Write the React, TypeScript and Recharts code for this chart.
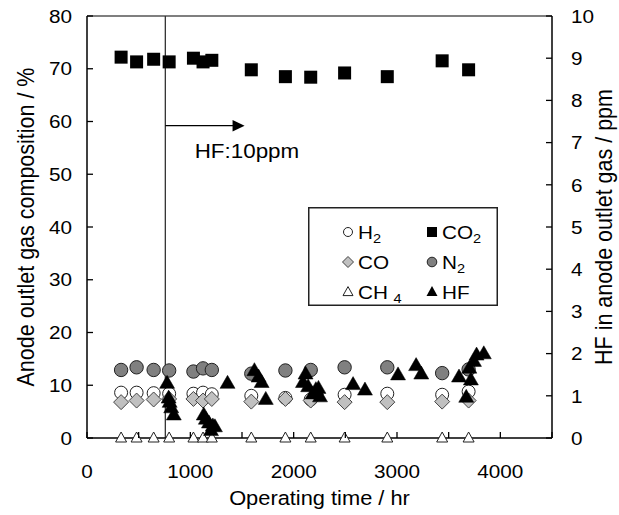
import React from 'react';
import { ScatterChart, Scatter, XAxis, YAxis, ReferenceLine, ReferenceDot, Legend } from 'recharts';

const FONT = '"Liberation Sans", Arial, Helvetica, sans-serif';
const SX = 1.12;

// sample times (hr) shared by the gas composition series
const sampleTimes = [330, 480, 645, 795, 1030, 1123, 1208, 1590, 1920, 2165, 2493, 2906, 3437, 3693];
const h2Values = [8.6, 8.6, 8.5, 8.4, 8.4, 8.6, 8.3, 8.0, 7.6, 7.3, 8.2, 8.4, 8.2, 8.8];
const co2Values = [72.2, 71.3, 71.8, 71.3, 72.0, 71.3, 71.6, 69.8, 68.5, 68.4, 69.2, 68.5, 71.5, 69.8];
const coValues = [6.8, 7.1, 7.3, 7.4, 7.4, 7.1, 7.4, 6.9, 7.4, 7.1, 6.8, 6.8, 6.9, 7.1];
const n2Values = [12.9, 13.4, 12.9, 12.8, 12.6, 13.2, 12.9, 12.2, 12.8, 12.9, 13.4, 13.4, 12.3, 13.0];
const ch4Values = [0, 0, 0, 0, 0, 0, 0, 0, 0, 0, 0, 0, 0, 0];

// HF in anode outlet gas (ppm)
const hfTimes = [775, 790, 800, 815, 840, 1130, 1150, 1180, 1200, 1218, 1238, 1360, 1620, 1660, 1690, 1730, 2090, 2115, 2140, 2185, 2215, 2240, 2255, 2575, 2690, 3010, 3185, 3235, 3600, 3670, 3700, 3715, 3745, 3770, 3840];
const hfValues = [1.30, 0.95, 0.85, 0.72, 0.55, 0.55, 0.45, 0.36, 0.18, 0.29, 0.27, 1.30, 1.60, 1.45, 1.32, 0.92, 1.32, 1.52, 1.22, 1.05, 1.15, 1.18, 0.98, 1.27, 1.14, 1.50, 1.72, 1.52, 1.45, 0.97, 1.66, 1.38, 1.82, 1.97, 2.00];

const xTicks = [0, 500, 1000, 1500, 2000, 2500, 3000, 3500, 4000, 4500];
const leftTicks = [0, 10, 20, 30, 40, 50, 60, 70, 80];
const rightTicks = [0, 1, 2, 3, 4, 5, 6, 7, 8, 9, 10];

const hfStartTime = 758;
const arrowEndTime = 1525;
const arrowLevel = 59.2;
const annotation = 'HF:10ppm';
const annotationTime = 1042;
const annotationLevel = 53.0;

const toPoints = (ts: number[], vs: number[]) => ts.map((t, i) => ({ t, v: vs[i] }));
const h2Data = toPoints(sampleTimes, h2Values);
const co2Data = toPoints(sampleTimes, co2Values);
const coData = toPoints(sampleTimes, coValues);
const n2Data = toPoints(sampleTimes, n2Values);
const ch4Data = toPoints(sampleTimes, ch4Values);
const hfData = toPoints(hfTimes, hfValues);

const HText = ({ x, y, anchor = 'middle', size = 18.5, children }: any) => (
  <text transform={`translate(${x},${y}) scale(${SX},1)`} textAnchor={anchor} fontSize={size} fontFamily={FONT} fill="#000">
    {children}
  </text>
);

const triPath = (cx: number, cy: number, w: number, h: number) =>
  `M${cx},${cy - h * 0.6} L${cx + w / 2},${cy + h * 0.4} L${cx - w / 2},${cy + h * 0.4} Z`;
const diaPath = (cx: number, cy: number, r: number) =>
  `M${cx},${cy - r} L${cx + r},${cy} L${cx},${cy + r} L${cx - r},${cy} Z`;

const H2Shape = (p: any) => <circle cx={p.cx} cy={p.cy} r={6.5} fill="#fff" stroke="#222" strokeWidth={1} />;
const CO2Shape = (p: any) => <rect x={p.cx - 6.5} y={p.cy - 6.5} width={13} height={13} fill="#000" />;
const COShape = (p: any) => <path d={diaPath(p.cx, p.cy, 7.5)} fill="#c0c0c0" stroke="#444" strokeWidth={1} />;
const N2Shape = (p: any) => <circle cx={p.cx} cy={p.cy} r={6.7} fill="#808080" stroke="#222" strokeWidth={1} />;
const CH4Shape = (p: any) => <path d={triPath(p.cx, p.cy, 11, 10)} fill="#fff" stroke="#222" strokeWidth={1} />;
const HFShape = (p: any) => <path d={triPath(p.cx, p.cy, 15, 13)} fill="#000" stroke="#000" strokeWidth={0.5} />;

const XTick = (props: any) => {
  const { x, y, payload } = props;
  const v = payload.value;
  return (
    <g>
      <line x1={x} y1={y} x2={x} y2={y - 6} stroke="#000" strokeWidth={1.3} />
      {v % 1000 === 0 && v <= 4000 ? <HText x={x} y={y + 40}>{v}</HText> : null}
    </g>
  );
};
const LeftTick = (props: any) => {
  const { x, y, payload } = props;
  return (
    <g>
      <line x1={x} y1={y} x2={x + 6} y2={y} stroke="#000" strokeWidth={1.3} />
      <HText x={x - 15} y={y + 6.7} anchor="end">{payload.value}</HText>
    </g>
  );
};
const RightTick = (props: any) => {
  const { x, y, payload } = props;
  return (
    <g>
      <line x1={x - 6} y1={y} x2={x} y2={y} stroke="#000" strokeWidth={1.3} />
      <HText x={x + 19} y={y + 6.7} anchor="start">{payload.value}</HText>
    </g>
  );
};

const VTitle = ({ viewBox, text, dx }: any) => {
  const cx = viewBox.x + dx;
  const cy = viewBox.y + viewBox.height / 2;
  return (
    <text transform={`translate(${cx},${cy}) rotate(-90) scale(1,${SX})`} textAnchor="middle" dominantBaseline="central" fontSize={21.5} fontFamily={FONT} fill="#000">
      {text}
    </text>
  );
};
const XTitle = ({ viewBox }: any) => (
  <HText x={viewBox.x + viewBox.width / 2} y={viewBox.y + 67} size={19.5}>Operating time / hr</HText>
);

const ArrowShape = (p: any) => {
  const { x1, y1, x2, y2 } = p;
  return (
    <g>
      <line x1={x1} y1={y1} x2={x2 - 10} y2={y2} stroke="#000" strokeWidth={1.3} />
      <path d={`M${x2},${y2} L${x2 - 12},${y2 - 5.8} L${x2 - 12},${y2 + 5.8} Z`} fill="#000" />
    </g>
  );
};
const AnnotationShape = (p: any) => (
  <HText x={p.cx} y={p.cy} anchor="start" size={20}>{annotation}</HText>
);

const Sub = ({ children, dx = 0 }: any) => (
  <tspan fontSize={13} dy={4} dx={dx}>{children}</tspan>
);

const LegendBox = () => {
  const rows = [25, 55, 85];
  const c1 = 40;
  const c2 = 124;
  const t = (x: number, y: number, content: any) => (
    <text transform={`translate(${x},${y + 7}) scale(${SX},1)`} fontSize={18.5} fontFamily={FONT} fill="#000">{content}</text>
  );
  return (
    <svg width={190} height={99} style={{ display: 'block' }}>
      <rect x={0.75} y={0.75} width={188.5} height={97.5} fill="#fff" stroke="#222" strokeWidth={1.5} />
      <circle cx={c1} cy={rows[0]} r={4.5} fill="#fff" stroke="#222" strokeWidth={1} />
      {t(c1 + 10, rows[0], <>H<Sub>2</Sub></>)}
      <rect x={c2 - 5} y={rows[0] - 5} width={10} height={10} fill="#000" />
      {t(c2 + 10, rows[0], <>CO<Sub>2</Sub></>)}
      <path d={diaPath(c1, rows[1], 5.5)} fill="#c0c0c0" stroke="#444" strokeWidth={1} />
      {t(c1 + 10, rows[1], <>CO</>)}
      <circle cx={c2} cy={rows[1]} r={4.8} fill="#808080" stroke="#222" strokeWidth={1} />
      {t(c2 + 10, rows[1], <>N<Sub>2</Sub></>)}
      <path d={triPath(c1, rows[2], 10, 9)} fill="#fff" stroke="#222" strokeWidth={1} />
      {t(c1 + 10, rows[2], <>CH<Sub dx={5}>4</Sub></>)}
      <path d={triPath(c2, rows[2], 11, 10)} fill="#000" />
      {t(c2 + 10, rows[2], <>HF</>)}
    </svg>
  );
};

export default function App() {
  return (
    <div style={{ position: 'absolute', left: 0, top: 0, background: '#fff' }}>
      <ScatterChart width={619} height={515} margin={{ top: 16, right: 0, bottom: 0, left: 0 }}>
        <XAxis
          type="number"
          dataKey="t"
          domain={[0, 4500]}
          ticks={xTicks}
          interval={0}
          height={77}
          tickSize={0}
          tickMargin={0}
          tickLine={false}
          axisLine={{ stroke: '#000', strokeWidth: 1.5 }}
          tick={<XTick />}
          label={{ content: (props: any) => <XTitle {...props} /> }}
        />
        <YAxis
          yAxisId="left"
          type="number"
          dataKey="v"
          domain={[0, 80]}
          ticks={leftTicks}
          interval={0}
          width={87}
          tickSize={0}
          tickMargin={0}
          tickLine={false}
          axisLine={{ stroke: '#000', strokeWidth: 1.5 }}
          tick={<LeftTick />}
          label={{ content: (props: any) => <VTitle {...props} text="Anode outlet gas composition / %" dx={26} /> }}
        />
        <YAxis
          yAxisId="right"
          orientation="right"
          type="number"
          dataKey="v"
          domain={[0, 10]}
          ticks={rightTicks}
          interval={0}
          width={67}
          tickSize={0}
          tickMargin={0}
          tickLine={false}
          axisLine={{ stroke: '#000', strokeWidth: 1.5 }}
          tick={<RightTick />}
          label={{ content: (props: any) => <VTitle {...props} text="HF in anode outlet gas / ppm" dx={52} /> }}
        />
        <ReferenceLine yAxisId="left" y={80} stroke="#555" strokeWidth={1.3} />
        <ReferenceLine yAxisId="left" x={hfStartTime} stroke="#333" strokeWidth={1.3} />
        <ReferenceLine
          yAxisId="left"
          segment={[{ x: hfStartTime, y: arrowLevel }, { x: arrowEndTime, y: arrowLevel }]}
          shape={(p: any) => <ArrowShape {...p} />}
        />
        <ReferenceDot yAxisId="left" x={annotationTime} y={annotationLevel} r={0} shape={(p: any) => <AnnotationShape {...p} />} />
        <Scatter yAxisId="left" name="H2" data={h2Data} shape={H2Shape} isAnimationActive={false} />
        <Scatter yAxisId="left" name="CO2" data={co2Data} shape={CO2Shape} isAnimationActive={false} />
        <Scatter yAxisId="left" name="CO" data={coData} shape={COShape} isAnimationActive={false} />
        <Scatter yAxisId="left" name="N2" data={n2Data} shape={N2Shape} isAnimationActive={false} />
        <Scatter yAxisId="left" name="CH4" data={ch4Data} shape={CH4Shape} isAnimationActive={false} />
        <Scatter yAxisId="right" name="HF" data={hfData} shape={HFShape} isAnimationActive={false} />
        <Legend
          layout="vertical"
          align="center"
          verticalAlign="middle"
          content={() => <LegendBox />}
          wrapperStyle={{ left: 308, top: 207, width: 190, height: 99, margin: 0, padding: 0 }}
        />
      </ScatterChart>
    </div>
  );
}
